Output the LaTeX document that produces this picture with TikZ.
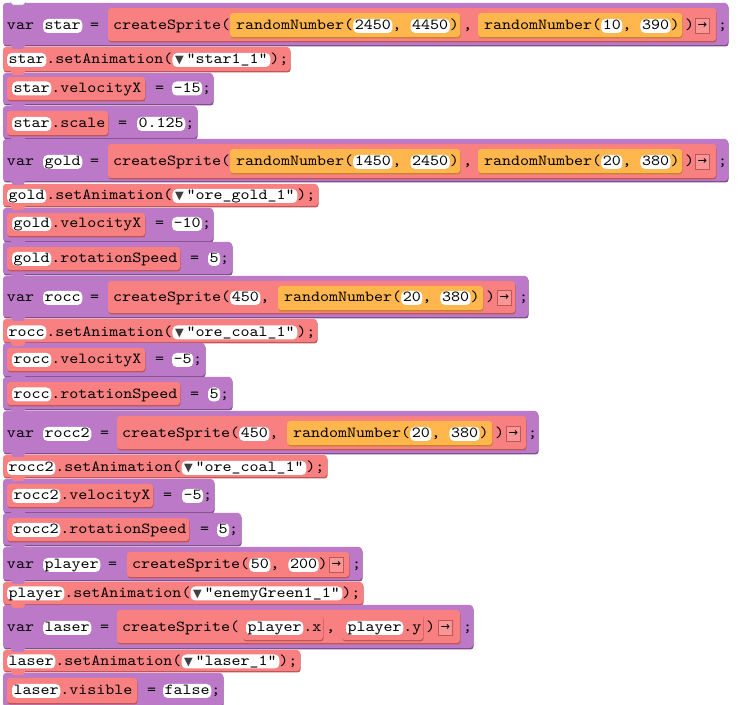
\documentclass[tikz,border=0pt]{standalone}
\usepackage{fontspec}
\setmonofont[FakeStretch=1.12]{lmmono10-regular.otf}
\newfontfamily\symfont{DejaVu Sans}
\usetikzlibrary{shadows}

\definecolor{blkpurple}{RGB}{187,121,199}
\definecolor{blkpurpledk}{RGB}{128,78,142}
\definecolor{blkred}{RGB}{248,128,128}
\definecolor{blkreddk}{RGB}{190,88,88}
\definecolor{blkorange}{RGB}{255,183,77}
\definecolor{blkorangedk}{RGB}{196,132,44}
\definecolor{btnfill}{RGB}{250,150,150}

\newcommand{\codefont}{\ttfamily\fontsize{11.5}{13}\selectfont}
\newcommand{\dropmark}{{\symfont\fontsize{8.5}{8.5}\selectfont\textcolor{black!75}{▼}}\hspace{2pt}}
\newcommand{\runarrow}{{\symfont\fontsize{8.5}{8.5}\selectfont →}}
\newcommand{\sep}{,\phantom{0}}

\tikzset{
  stmt/.style={fill=blkpurple, rounded corners=2.25pt,
    general shadow={fill=blkpurpledk, shadow xshift=0.4pt, shadow yshift=-1.1pt}},
  call/.style={fill=blkred, rounded corners=2.25pt,
    general shadow={fill=blkreddk, shadow xshift=0.4pt, shadow yshift=-1.1pt}},
  rnd/.style={fill=blkorange, rounded corners=2.25pt,
    general shadow={fill=blkorangedk, shadow xshift=0.4pt, shadow yshift=-1.1pt}},
  code/.style={font=\codefont, inner sep=0pt, outer sep=0pt, text height=8.25pt, text depth=2.25pt, anchor=west},
  fld/.style={code, fill=white, rounded corners=3.5pt, inner xsep=1.2pt},
  drop/.style={fld, inner xsep=2pt},
  btn/.style={fill=btnfill, draw=blkreddk, line width=0.6pt, minimum size=11pt, inner sep=0pt, outer sep=0pt, anchor=west}
}

\begin{document}
\begin{tikzpicture}[x=0.75pt, y=-0.75pt]
\useasboundingbox (0,0) rectangle (740,705);

% blocks
\fill[stmt] (3,3) rectangle (728,45);
\fill[call] (108,8) rectangle (716,41);
\fill[rnd] (230,13) rectangle (460,37);
\fill[rnd] (478,13) rectangle (682,37);
\fill[call] (3,47) rectangle (290,71);
\fill[stmt] (3,73) rectangle (213,104);
\fill[call] (7,77) rectangle (145,100);
\fill[stmt] (3,106) rectangle (197,138);
\fill[call] (7,111) rectangle (108,135);

\fill[stmt] (3,139) rectangle (728,181);
\fill[call] (108,144) rectangle (716,178);
\fill[rnd] (230,149) rectangle (460,173);
\fill[rnd] (478,149) rectangle (682,173);
\fill[call] (3,184) rectangle (318,206);
\fill[stmt] (3,208) rectangle (213,241);
\fill[call] (7,213) rectangle (145,236);
\fill[stmt] (3,242) rectangle (232,274);
\fill[call] (7,247) rectangle (180,270);

\fill[stmt] (3,276) rectangle (528,317);
\fill[call] (108,281) rectangle (515,313);
\fill[rnd] (278,286) rectangle (483,310);
\fill[call] (3,319) rectangle (317,342);
\fill[stmt] (3,343) rectangle (205,376);
\fill[call] (7,348) rectangle (145,371);
\fill[stmt] (3,377) rectangle (232,409);
\fill[call] (7,382) rectangle (180,405);

\fill[stmt] (3,411) rectangle (538,453);
\fill[call] (117,416) rectangle (526,449);
\fill[rnd] (287,421) rectangle (492,445);
\fill[call] (3,455) rectangle (327,477);
\fill[stmt] (3,479) rectangle (214,512);
\fill[call] (7,484) rectangle (153,507);
\fill[stmt] (3,513) rectangle (241,545);
\fill[call] (7,518) rectangle (189,541);

\fill[stmt] (3,547) rectangle (362,580);
\fill[call] (127,552) rectangle (349,577);
\fill[call] (3,582) rectangle (363,604);
\fill[stmt] (3,605) rectangle (473,648);
\fill[call] (117,610) rectangle (460,643);
\fill[call] (243,614) rectangle (323,640);
\fill[call] (342,614) rectangle (423,640);
\fill[call] (3,650) rectangle (300,671);
\fill[stmt] (3,673) rectangle (223,706);
\fill[call] (7,678) rectangle (137,703);

% tabs under each statement
\filldraw[fill=white, draw=black!30] (10,2) -- (13,5) -- (23,5) -- (26,2);
\foreach \y/\c in {45/blkpurple, 71/blkred, 104/blkpurple, 138/blkpurple, 181/blkpurple,
  206/blkred, 241/blkpurple, 274/blkpurple, 317/blkpurple, 342/blkred, 376/blkpurple,
  409/blkpurple, 453/blkpurple, 477/blkred, 512/blkpurple, 545/blkpurple, 580/blkpurple,
  604/blkred, 648/blkpurple, 671/blkred}
  \fill[\c] (10,\y-1) -- (13,\y+4) -- (23,\y+4) -- (26,\y-1) -- cycle;

% star
\node[code] (a1) at (7,26) {var};
\node[fld] (a2) at (43,26) {star};
\node[code] (a3) at (90,26) {=};
\node[code] (a4) at (113,26) {createSprite(};
\node[code] (a5) at (236,26) {randomNumber(};
\node[fld] (a6) at (a5.east) {2450};
\node[code] (a7) at (a6.east) {\sep};
\node[fld] (a8) at (a7.east) {4450};
\node[code] (a9) at (a8.east) {)};
\node[code] (a10) at (463,26) {,};
\node[code] (a11) at (484,26) {randomNumber(};
\node[fld] (a12) at (a11.east) {10};
\node[code] (a13) at (a12.east) {\sep};
\node[fld] (a14) at (a13.east) {390};
\node[code] (a15) at (a14.east) {)};
\node[code] (a16) at (685,26) {)};
\node[btn] (a17) at (695,26) {\runarrow};
\node[code] (a18) at (718,26) {;};

\node[fld] (b1) at (7,60) {star};
\node[code] (b2) at (b1.east) {.setAnimation(};
\node[drop] (b3) at (b2.east) {\dropmark"star1\_1"};
\node[code] (b4) at (b3.east) {);};

\node[fld] (c1) at (12,88.5) {star};
\node[code] (c2) at (c1.east) {.velocityX};
\node[code] (c3) at (155,88.5) {=};
\node[fld] (c4) at (172,88.5) {-15};
\node[code] (c5) at (c4.east) {;};

\node[fld] (d1) at (12,124) {star};
\node[code] (d2) at (d1.east) {.scale};
\node[code] (d3) at (118,124) {=};
\node[fld] (d4) at (137,124) {0.125};
\node[code] (d5) at (d4.east) {;};

% gold
\node[code] (e1) at (7,162) {var};
\node[fld] (e2) at (43,162) {gold};
\node[code] (e3) at (90,162) {=};
\node[code] (e4) at (113,162) {createSprite(};
\node[code] (e5) at (236,162) {randomNumber(};
\node[fld] (e6) at (e5.east) {1450};
\node[code] (e7) at (e6.east) {\sep};
\node[fld] (e8) at (e7.east) {2450};
\node[code] (e9) at (e8.east) {)};
\node[code] (e10) at (463,162) {,};
\node[code] (e11) at (484,162) {randomNumber(};
\node[fld] (e12) at (e11.east) {20};
\node[code] (e13) at (e12.east) {\sep};
\node[fld] (e14) at (e13.east) {380};
\node[code] (e15) at (e14.east) {)};
\node[code] (e16) at (685,162) {)};
\node[btn] (e17) at (695,162) {\runarrow};
\node[code] (e18) at (718,162) {;};

\node[fld] (f1) at (7,196) {gold};
\node[code] (f2) at (f1.east) {.setAnimation(};
\node[drop] (f3) at (f2.east) {\dropmark"ore\_gold\_1"};
\node[code] (f4) at (f3.east) {);};

\node[fld] (g1) at (12,224) {gold};
\node[code] (g2) at (g1.east) {.velocityX};
\node[code] (g3) at (155,224) {=};
\node[fld] (g4) at (172,224) {-10};
\node[code] (g5) at (g4.east) {;};

\node[fld] (h1) at (12,259) {gold};
\node[code] (h2) at (h1.east) {.rotationSpeed};
\node[code] (h3) at (190,259) {=};
\node[fld] (h4) at (208,259) {5};
\node[code] (h5) at (h4.east) {;};

% rocc
\node[code] (i1) at (7,298) {var};
\node[fld] (i2) at (43,298) {rocc};
\node[code] (i3) at (90,298) {=};
\node[code] (i4) at (113,298) {createSprite(};
\node[fld] (i5) at (i4.east) {450};
\node[code] (i6) at (i5.east) {\sep};
\node[code] (i7) at (284,298) {randomNumber(};
\node[fld] (i8) at (i7.east) {20};
\node[code] (i9) at (i8.east) {\sep};
\node[fld] (i10) at (i9.east) {380};
\node[code] (i11) at (i10.east) {)};
\node[code] (i12) at (486,298) {)};
\node[btn] (i13) at (497,298) {\runarrow};
\node[code] (i14) at (519,298) {;};

\node[fld] (j1) at (7,332.5) {rocc};
\node[code] (j2) at (j1.east) {.setAnimation(};
\node[drop] (j3) at (j2.east) {\dropmark"ore\_coal\_1"};
\node[code] (j4) at (j3.east) {);};

\node[fld] (k1) at (12,360) {rocc};
\node[code] (k2) at (k1.east) {.velocityX};
\node[code] (k3) at (155,360) {=};
\node[fld] (k4) at (172,360) {-5};
\node[code] (k5) at (k4.east) {;};

\node[fld] (l1) at (12,394.5) {rocc};
\node[code] (l2) at (l1.east) {.rotationSpeed};
\node[code] (l3) at (190,394.5) {=};
\node[fld] (l4) at (208,394.5) {5};
\node[code] (l5) at (l4.east) {;};

% rocc2
\node[code] (m1) at (7,434) {var};
\node[fld] (m2) at (43,434) {rocc2};
\node[code] (m3) at (100,434) {=};
\node[code] (m4) at (122,434) {createSprite(};
\node[fld] (m5) at (m4.east) {450};
\node[code] (m6) at (m5.east) {\sep};
\node[code] (m7) at (293,434) {randomNumber(};
\node[fld] (m8) at (m7.east) {20};
\node[code] (m9) at (m8.east) {\sep};
\node[fld] (m10) at (m9.east) {380};
\node[code] (m11) at (m10.east) {)};
\node[code] (m12) at (495,434) {)};
\node[btn] (m13) at (506,434) {\runarrow};
\node[code] (m14) at (528,434) {;};

\node[fld] (n1) at (7,468) {rocc2};
\node[code] (n2) at (n1.east) {.setAnimation(};
\node[drop] (n3) at (n2.east) {\dropmark"ore\_coal\_1"};
\node[code] (n4) at (n3.east) {);};

\node[fld] (o1) at (12,496) {rocc2};
\node[code] (o2) at (o1.east) {.velocityX};
\node[code] (o3) at (163,496) {=};
\node[fld] (o4) at (182,496) {-5};
\node[code] (o5) at (o4.east) {;};

\node[fld] (p1) at (12,530) {rocc2};
\node[code] (p2) at (p1.east) {.rotationSpeed};
\node[code] (p3) at (200,530) {=};
\node[fld] (p4) at (217,530) {5};
\node[code] (p5) at (p4.east) {;};

% player
\node[code] (q1) at (7,565) {var};
\node[fld] (q2) at (43,565) {player};
\node[code] (q3) at (108,565) {=};
\node[code] (q4) at (132,565) {createSprite(};
\node[fld] (q5) at (q4.east) {50};
\node[code] (q6) at (q5.east) {\sep};
\node[fld] (q7) at (q6.east) {200};
\node[code] (q8) at (q7.east) {)};
\node[btn] (q9) at (329,565) {\runarrow};
\node[code] (q10) at (352,565) {;};

\node[fld] (r1) at (7,593.5) {player};
\node[code] (r2) at (r1.east) {.setAnimation(};
\node[drop] (r3) at (r2.east) {\dropmark"enemyGreen1\_1"};
\node[code] (r4) at (r3.east) {);};

% laser
\node[code] (s1) at (7,628) {var};
\node[fld] (s2) at (43,628) {laser};
\node[code] (s3) at (100,628) {=};
\node[code] (s4) at (122,628) {createSprite(};
\node[fld] (s5) at (246,628) {player};
\node[code] (s6) at (s5.east) {.x};
\node[code] (s7) at (326,628) {,};
\node[fld] (s8) at (346,628) {player};
\node[code] (s9) at (s8.east) {.y};
\node[code] (s10) at (426,628) {)};
\node[btn] (s11) at (438,628) {\runarrow};
\node[code] (s12) at (463,628) {;};

\node[fld] (t1) at (7,661.5) {laser};
\node[code] (t2) at (t1.east) {.setAnimation(};
\node[drop] (t3) at (t2.east) {\dropmark"laser\_1"};
\node[code] (t4) at (t3.east) {);};

\node[fld] (u1) at (12,691) {laser};
\node[code] (u2) at (u1.east) {.visible};
\node[code] (u3) at (147,691) {=};
\node[fld] (u4) at (163,691) {false};
\node[code] (u5) at (u4.east) {;};
\end{tikzpicture}
\end{document}
